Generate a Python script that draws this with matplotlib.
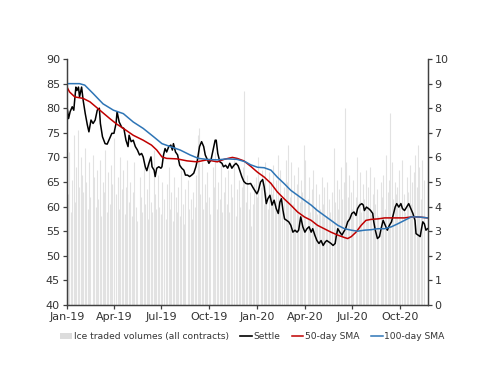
import pandas as pd
import matplotlib
matplotlib.use("Agg")
import matplotlib.pyplot as plt
import matplotlib.dates as mdates
from matplotlib.patches import Patch
from matplotlib.lines import Line2D

START = pd.Timestamp("2019-01-01")

# settle price: (days since 1 Jan 2019, value)
settle_days = [0, 3, 6, 10, 13, 17, 19, 22, 24, 28, 31, 35, 39, 42, 46, 50, 54, 58, 62, 64,
               68, 73, 77, 82, 86, 90, 94, 96, 100, 105, 109, 113, 117, 119, 123, 127, 131, 135, 139, 143,
               146, 150, 153, 157, 161, 163, 167, 169, 172, 176, 180, 182, 185, 188, 191, 195, 199, 202, 204, 208,
               212, 216, 220, 224, 227, 231, 235, 239, 243, 247, 250, 254, 258, 262, 265, 268, 272, 276, 280, 284,
               286, 289, 293, 297, 300, 304, 308, 312, 316, 320, 324, 328, 331, 335, 339, 343, 347, 352, 358, 364,
               367, 371, 375, 378, 382, 385, 389, 393, 397, 401, 405, 408, 411, 414, 417, 421, 425, 429, 433, 437,
               441, 444, 448, 452, 456, 460, 464, 468, 471, 475, 479, 483, 487, 491, 495, 498, 502, 506, 510, 514,
               516, 519, 523, 527, 530, 534, 538, 542, 546, 550, 554, 557, 561, 565, 568, 570, 574, 578, 582, 586,
               588, 591, 595, 599, 602, 606, 610, 614, 618, 622, 625, 629, 632, 636, 640, 643, 647, 651, 655, 659,
               663, 667, 669, 673, 677, 679, 682, 685, 688, 691]
settle = [80.3, 77.9, 79.3, 80.3, 79.6, 84.3, 83.6, 84.3, 82.3, 84.3, 81.6, 78.9, 76.6, 75.2, 77.6, 76.9, 77.6, 79.6, 80.0, 76.9,
          74.2, 72.8, 72.7, 73.9, 74.9, 74.9, 76.9, 79.3, 77.2, 76.1, 75.9, 73.5, 72.2, 74.5, 73.2, 73.5, 72.2, 71.5, 70.5, 70.8,
          70.1, 68.1, 67.3, 68.8, 70.1, 68.1, 67.4, 66.1, 67.8, 68.1, 67.8, 68.1, 70.5, 71.8, 71.1, 72.2, 72.5, 71.5, 72.8, 71.1,
          70.5, 68.4, 67.8, 67.4, 66.4, 66.4, 66.1, 66.4, 66.8, 68.1, 69.5, 72.2, 73.2, 72.2, 70.5, 69.8, 68.8, 69.5, 71.5, 73.5,
          73.5, 70.8, 69.1, 68.8, 68.1, 68.4, 67.8, 68.8, 67.8, 68.4, 68.8, 68.3, 67.4, 66.1, 65.1, 64.7, 64.6, 64.7, 63.6, 62.6,
          63.3, 65.0, 65.5, 64.0, 60.6, 61.6, 62.3, 60.3, 61.3, 59.6, 58.6, 60.9, 61.6, 59.2, 57.5, 57.2, 56.9, 56.2, 54.8, 55.2,
          54.8, 55.2, 57.9, 55.9, 54.8, 55.5, 55.9, 54.8, 55.5, 54.2, 53.1, 52.5, 53.1, 52.1, 52.8, 53.1, 52.8, 52.5, 52.1, 52.5,
          53.9, 55.5, 54.8, 54.2, 54.8, 55.5, 56.9, 57.5, 58.6, 58.9, 58.2, 59.6, 60.3, 60.6, 60.3, 59.2, 59.9, 59.6, 59.2, 58.6,
          56.9, 55.2, 53.5, 53.9, 55.5, 57.2, 56.2, 55.2, 56.2, 56.9, 58.2, 59.9, 60.6, 59.9, 60.6, 59.6, 59.2, 59.9, 60.6, 59.6,
          58.6, 57.2, 54.5, 54.2, 53.9, 55.2, 56.9, 56.5, 55.2, 55.5]

sma50_days = [0, 5, 15, 31, 44, 63, 82, 95, 108, 127, 146, 162, 172, 182, 191, 211, 230, 249, 268, 288,
              301, 317, 326, 339, 352, 365, 378, 391, 403, 416, 429, 442, 455, 468, 480, 493, 506, 519, 532, 538,
              545, 554, 564, 573, 583, 596, 609, 622, 634, 647, 660, 673, 691]
sma50 = [84.3, 83.3, 82.3, 82.0, 81.3, 79.6, 77.9, 76.8, 75.9, 74.5, 73.5, 72.5, 71.5, 70.1, 69.8, 69.7, 69.3, 69.1, 69.5, 69.1,
         69.6, 70.0, 69.8, 69.3, 68.2, 67.0, 66.0, 64.7, 63.0, 61.6, 60.3, 58.9, 57.9, 57.2, 56.2, 55.5, 54.8, 54.2, 53.7, 53.5,
         53.9, 54.8, 56.2, 57.2, 57.4, 57.5, 57.7, 57.7, 57.7, 57.7, 57.9, 57.9, 57.7]

sma100_days = [0, 24, 34, 50, 69, 89, 108, 127, 146, 166, 182, 198, 217, 236, 252, 268, 288, 307, 326, 342,
               352, 365, 378, 391, 403, 416, 429, 442, 455, 468, 480, 493, 506, 519, 532, 545, 557, 570, 583, 596,
               609, 622, 634, 647, 660, 673, 691]
sma100 = [85.0, 85.0, 84.7, 83.0, 80.9, 79.6, 78.9, 77.2, 75.9, 74.2, 72.8, 72.2, 71.5, 70.5, 69.8, 69.6, 69.5, 69.7, 69.6, 69.1,
          68.5, 68.0, 67.9, 67.4, 66.0, 64.7, 63.3, 62.3, 61.3, 60.3, 59.2, 58.2, 57.2, 56.2, 55.5, 55.2, 55.0, 55.2, 55.3, 55.5,
          55.5, 55.9, 56.5, 57.2, 57.9, 57.9, 57.7]

# ICE traded volumes (right axis), one value every two business days
volumes = [4.5, 6.2, 3.8, 5.1, 6.9, 4.2, 5.6, 7.1, 4.8, 6.0, 5.3,
           4.6, 6.4, 5.0, 3.9, 5.8, 4.4, 6.1, 5.2, 4.0, 5.5,
           4.3, 5.9, 3.6, 5.0, 4.6, 6.3, 3.8, 5.4, 4.1, 5.7, 4.9,
           6.8, 4.5, 5.2, 3.9, 6.0, 4.7, 5.5, 3.7, 4.8, 5.9, 4.2,
           5.0, 3.6, 4.6, 5.8, 4.0, 3.4, 5.2, 4.4, 3.8, 5.6, 4.1,
           4.7, 3.5, 5.9, 4.2, 3.8, 6.3, 4.5, 3.9, 5.3, 4.0,
           3.7, 5.0, 4.3, 3.5, 4.9, 5.6, 3.9, 4.6, 3.4, 5.2, 4.4, 3.8,
           4.8, 3.6, 5.5, 4.1, 3.3, 4.7, 5.1, 3.9, 4.3, 3.5, 4.6,
           4.0, 5.3, 6.9, 7.2, 4.5, 5.8, 3.9, 4.9, 4.2, 5.4,
           4.4, 3.7, 5.6, 4.8, 6.2, 3.9, 5.0, 4.3, 5.7, 3.8, 4.6, 5.2,
           4.1, 5.5, 3.8, 4.9, 4.4, 5.9, 3.6, 4.7, 5.1, 4.0,
           4.8, 5.6, 8.7, 4.2, 5.3, 3.9, 4.6, 3.2, 4.1, 4.9,
           5.2, 4.4, 6.0, 4.8, 5.5, 4.1, 5.8, 4.6, 3.9, 5.4, 5.0,
           4.5, 5.7, 4.0, 5.1, 6.1, 4.3, 5.5, 3.8, 4.8, 5.9,
           5.0, 6.5, 4.4, 5.8, 4.1, 5.3, 3.9, 4.9, 5.6, 4.2, 5.1,
           4.6, 6.5, 5.9, 4.3, 5.2, 3.8, 4.7, 5.5, 4.0, 4.9, 3.7,
           4.5, 3.9, 5.2, 4.1, 4.8, 3.6, 5.0, 4.3, 3.8, 4.6,
           6.4, 4.2, 5.1, 3.9, 4.7, 5.6, 4.3, 5.0, 8.0, 5.8, 4.4,
           5.3, 4.6, 3.9, 5.1, 4.4, 6.0, 4.2, 5.4, 3.8, 4.9, 4.3, 5.5,
           4.0, 4.8, 5.6, 3.7, 4.5, 5.2, 4.1, 4.7, 3.6, 5.0,
           4.4, 5.3, 3.9, 6.1, 4.6, 5.1, 7.8, 5.8, 4.3, 5.0, 4.5,
           4.8, 5.5, 4.2, 5.9, 4.5, 3.8, 5.2, 4.6, 5.7, 4.1, 5.0,
           5.4, 6.1, 4.8, 6.5, 5.6, 4.3, 5.9, 5.1]

labels = ["Ice traded volumes (all contracts)", "Settle", "50-day SMA", "100-day SMA"]


def to_dates(days):
    return START + pd.to_timedelta(days, unit="D")


vol_dates = pd.bdate_range("2019-01-02", periods=len(volumes), freq="2B")

plt.rcParams["font.family"] = ["DejaVu Sans"]
fig = plt.figure(figsize=(5, 3.86), dpi=100)
ax = fig.add_axes([0.134, 0.21, 0.721, 0.637])
ax2 = ax.twinx()

# thin grey sticks for the volumes, like the dense daily bars of the original
ax2.vlines(vol_dates, 0, volumes, color="#e2e2e2", lw=0.8)
ax.plot(to_dates(settle_days), settle, color="black", lw=1.1)
ax.plot(to_dates(sma50_days), sma50, color="#c00000", lw=1.1)
ax.plot(to_dates(sma100_days), sma100, color="#2e75b6", lw=1.1)

ax.set_zorder(ax2.get_zorder() + 1)
ax.patch.set_visible(False)

ax.set_ylim(40, 90)
ax.set_yticks(range(40, 91, 5))
ax2.set_ylim(0, 10)
ax2.set_yticks(range(0, 11))
ax.set_xlim(START, to_dates([691])[0])
ax.xaxis.set_major_locator(mdates.MonthLocator(bymonth=[1, 4, 7, 10]))
ax.xaxis.set_major_formatter(mdates.DateFormatter("%b-%y"))

for a in (ax, ax2):
    a.spines["top"].set_visible(False)
    for s in ("left", "right", "bottom"):
        a.spines[s].set_color("#404040")
        a.spines[s].set_linewidth(0.9)
    a.tick_params(labelsize=8, length=3, width=0.9, color="#404040", labelcolor="#333333", pad=2)

handles = [Patch(facecolor="#dcdcdc", edgecolor="none"),
           Line2D([], [], color="black", lw=1.2),
           Line2D([], [], color="#c00000", lw=1.1),
           Line2D([], [], color="#2e75b6", lw=1.1)]
fig.legend(handles, labels, loc="center", bbox_to_anchor=(0.505, 0.127), ncol=4, frameon=False,
           fontsize=6.6, handlelength=1.3, handletextpad=0.2, columnspacing=1.2,
           labelcolor="#333333")

fig.savefig("out.png", dpi=100)
